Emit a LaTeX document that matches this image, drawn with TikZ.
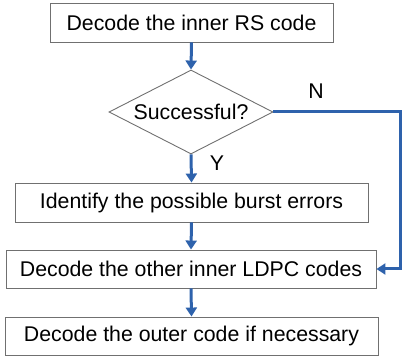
\documentclass[tikz,border=0pt]{standalone}
\usepackage{fontspec}
\setmainfont{Liberation Sans}
\usetikzlibrary{shapes.geometric,arrows.meta}
\definecolor{flowblue}{HTML}{2E62AC}
\definecolor{boxgray}{HTML}{707070}
\begin{document}
\begin{tikzpicture}[x=1pt,y=-1pt,
  stepbox/.style={draw=boxgray,line width=0.9pt,fill=white,inner sep=0pt,font=\fontsize{21.3}{24}\selectfont},
  decision/.style={diamond,draw=boxgray,line width=0.9pt,inner sep=0pt,font=\fontsize{21.3}{24}\selectfont},
  flow/.style={draw=flowblue,line width=3pt,-{Triangle[width=11pt,length=9pt]}},
  lbl/.style={font=\fontsize{21.3}{24}\selectfont,inner sep=0pt}]
\useasboundingbox (0,0) rectangle (402,358);
\node[stepbox,minimum width=283pt,minimum height=39pt] (b1) at (191.5,22.5) {Decode the inner RS code};
\node[decision,minimum width=164pt,minimum height=84pt,aspect=1.95] (d) at (191,112) {Successful?};
\node[stepbox,minimum width=353pt,minimum height=39pt] (b2) at (191.5,202.5) {Identify the possible burst errors};
\node[stepbox,minimum width=370pt,minimum height=38pt] (b3) at (191,269) {Decode the other inner LDPC codes};
\node[stepbox,minimum width=373pt,minimum height=38pt] (b4) at (191.5,336) {Decode the outer code if necessary};
\coordinate (c) at (400,112);
\node[lbl] (n) at (316,91) {N};
\node[lbl] (y) at (217,163) {Y};
\draw[flow] (b1.south) -- (d.north);
\draw[flow] (d.south) -- (b2.north);
\draw[flow] (b2.south) -- (b3.north);
\draw[flow] (b3.south) -- (b4.north);
\draw[flow] (d.east) -- (c) |- (b3.east);
\end{tikzpicture}
\end{document}
